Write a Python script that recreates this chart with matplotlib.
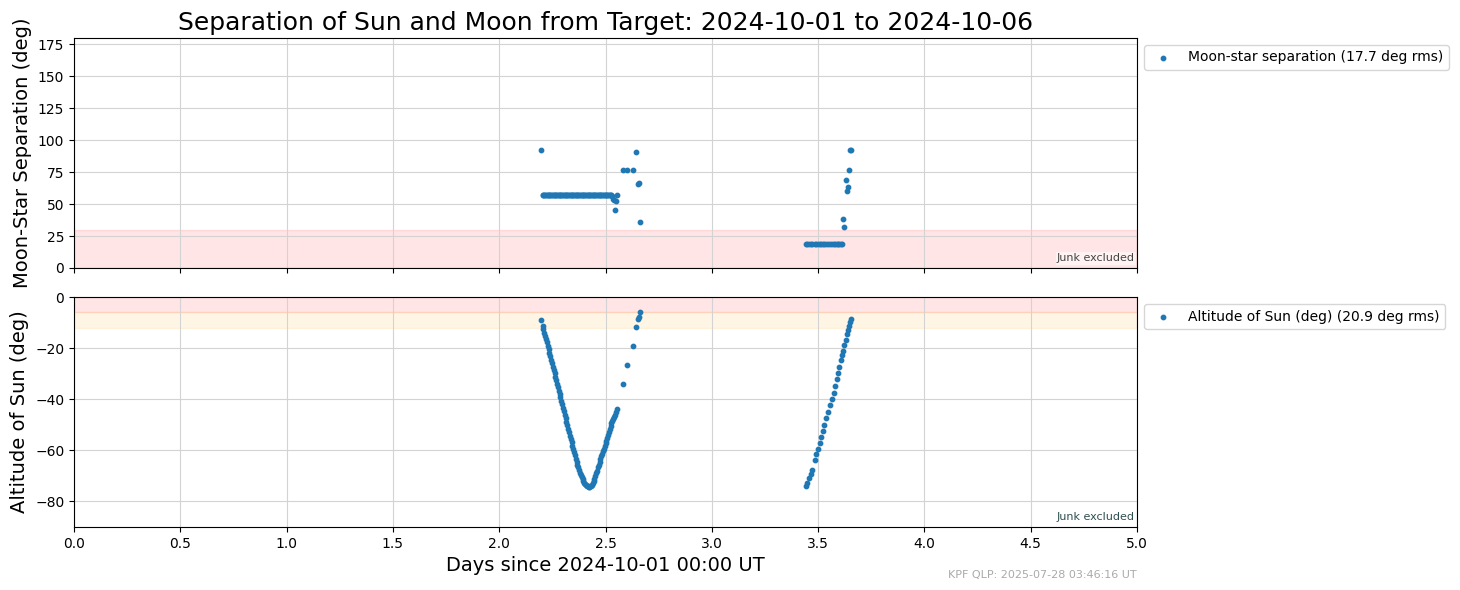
import matplotlib
matplotlib.use("Agg")
import matplotlib.pyplot as plt

# ---- data ----
days_seg1 = [
    2.197, 2.204, 2.208, 2.212, 2.216, 2.220, 2.224, 2.228, 2.232, 2.236,
    2.240, 2.244, 2.248, 2.252, 2.256, 2.260, 2.264, 2.268, 2.272, 2.276,
    2.280, 2.284, 2.288, 2.292, 2.296, 2.300, 2.304, 2.308, 2.312, 2.316,
    2.320, 2.324, 2.328, 2.332, 2.336, 2.340, 2.344, 2.348, 2.352, 2.356,
    2.360, 2.364, 2.368, 2.372, 2.376, 2.380, 2.384, 2.388, 2.392, 2.396,
    2.400, 2.404, 2.408, 2.412, 2.416, 2.420, 2.424, 2.428, 2.432, 2.436,
    2.440, 2.444, 2.448, 2.452, 2.456, 2.460, 2.464, 2.468, 2.472, 2.476,
    2.480, 2.484, 2.488, 2.492, 2.496, 2.500, 2.504, 2.508, 2.512, 2.516,
    2.520, 2.524, 2.528, 2.532, 2.536, 2.540, 2.544, 2.548, 2.553,
    2.581, 2.601, 2.627, 2.645, 2.654, 2.658, 2.664,
]
sun_seg1 = [
    -9.0, -11.3, -12.6, -13.9, -15.2, -16.5, -17.8, -19.1, -20.4, -21.8,
    -23.1, -24.5, -25.8, -27.2, -28.5, -29.9, -31.2, -32.6, -33.9, -35.3,
    -36.6, -38.0, -39.3, -40.7, -42.0, -43.4, -44.8, -46.1, -47.5, -48.8,
    -50.2, -51.5, -52.9, -54.2, -55.5, -56.9, -58.2, -59.5, -60.8, -62.0,
    -63.2, -64.4, -65.6, -66.7, -67.8, -68.8, -69.7, -70.6, -71.4, -72.1,
    -72.7, -73.2, -73.6, -73.9, -74.1, -74.2, -74.2, -74.1, -73.8, -73.4,
    -72.8, -72.0, -71.1, -70.1, -69.0, -67.9, -66.7, -65.6, -64.5, -63.4,
    -62.3, -61.3, -60.3, -59.3, -58.3, -57.3, -56.3, -55.2, -54.1, -53.0,
    -51.8, -50.6, -49.5, -48.5, -47.6, -46.8, -46.0, -45.0, -43.7,
    -33.9, -26.8, -19.2, -11.9, -8.6, -8.0, -6.0,
]
moon_seg1 = [92.5] + [57.5] * 82 + [56.0, 54.0, 53.0, 45.0, 52.5, 57.0] + \
    [76.5, 76.5, 76.5, 90.4, 66.0, 66.5, 35.7]

days_seg2 = [
    3.445, 3.449, 3.457, 3.465, 3.472, 3.485, 3.488, 3.499, 3.511, 3.514,
    3.522, 3.528, 3.537, 3.547, 3.556, 3.564, 3.573, 3.579, 3.587, 3.594,
    3.600, 3.606, 3.612, 3.618, 3.623, 3.630, 3.634, 3.640, 3.647, 3.650,
    3.655,
]
sun_seg2 = [
    -74.0, -72.8, -71.0, -69.3, -67.6, -63.7, -61.3, -59.3, -57.1, -54.8,
    -52.4, -49.9, -47.2, -45.0, -42.3, -39.8, -37.4, -34.9, -32.2, -29.7,
    -27.3, -24.8, -22.5, -21.2, -18.8, -16.9, -14.6, -12.9, -11.3, -9.9,
    -8.6,
]
moon_seg2 = [18.5] * 23 + [38.0, 31.8, 68.5, 60.0, 63.0, 76.5, 92.7, 92.7]

days = days_seg1 + days_seg2
moon_sep = moon_seg1 + moon_seg2
sun_alt = sun_seg1 + sun_seg2

moon_rms = 17.7
sun_rms = 20.9
title = "Separation of Sun and Moon from Target: 2024-10-01 to 2024-10-06"
xlabel = "Days since 2024-10-01 00:00 UT"
footer = "KPF QLP: 2025-07-28 03:46:16 UT"

# ---- figure ----
fig = plt.figure(figsize=(14.6, 5.9), dpi=100)
ax1 = fig.add_axes([0.0507, 0.5458, 0.7281, 0.3898])
ax2 = fig.add_axes([0.0507, 0.1068, 0.7281, 0.3898], sharex=ax1)

ax1.axhspan(0, 30, color='red', alpha=0.1, zorder=0)
ax1.scatter(days, moon_sep, s=10, color='#1f77b4', zorder=3,
            label=f"Moon-star separation ({moon_rms} deg rms)")
ax1.set_ylim(0, 180)
ax1.set_yticks(range(0, 176, 25))
ax1.set_ylabel("Moon-Star Separation (deg)", fontsize=14)
ax1.set_title(title, fontsize=18)
ax1.grid(True, color='#d3d3d3', zorder=0)
ax1.set_axisbelow(True)
ax1.tick_params(labelbottom=False)
ax1.legend(loc='upper left', bbox_to_anchor=(1.0, 1.0), fontsize=10)
ax1.text(0.998, 0.02, "Junk excluded", transform=ax1.transAxes, ha='right',
         va='bottom', fontsize=8, color='#444444',
         bbox=dict(facecolor='white', alpha=0.5, edgecolor='none', pad=1))

ax2.axhspan(-6, 0, color='red', alpha=0.1, zorder=0)
ax2.axhspan(-12, -6, color='orange', alpha=0.1, zorder=0)
ax2.scatter(days, sun_alt, s=10, color='#1f77b4', zorder=3,
            label=f"Altitude of Sun (deg) ({sun_rms} deg rms)")
ax2.set_ylim(-90, 0)
ax2.set_yticks([-80, -60, -40, -20, 0])
ax2.set_ylabel("Altitude of Sun (deg)", fontsize=14)
ax2.set_xlabel(xlabel, fontsize=14)
ax2.grid(True, color='#d3d3d3', zorder=0)
ax2.set_axisbelow(True)
ax2.legend(loc='upper left', bbox_to_anchor=(1.0, 1.0), fontsize=10)
ax2.text(0.998, 0.02, "Junk excluded", transform=ax2.transAxes, ha='right',
         va='bottom', fontsize=8, color='#2f4f4f',
         bbox=dict(facecolor='white', alpha=0.5, edgecolor='none', pad=1))

ax2.set_xlim(0, 5)
ax2.set_xticks([0, 0.5, 1, 1.5, 2, 2.5, 3, 3.5, 4, 4.5, 5])

fig.text(0.7788, 0.017, footer, ha='right', va='bottom', fontsize=8,
         color='#aaaaaa')

fig.savefig("out.png", dpi=100)
